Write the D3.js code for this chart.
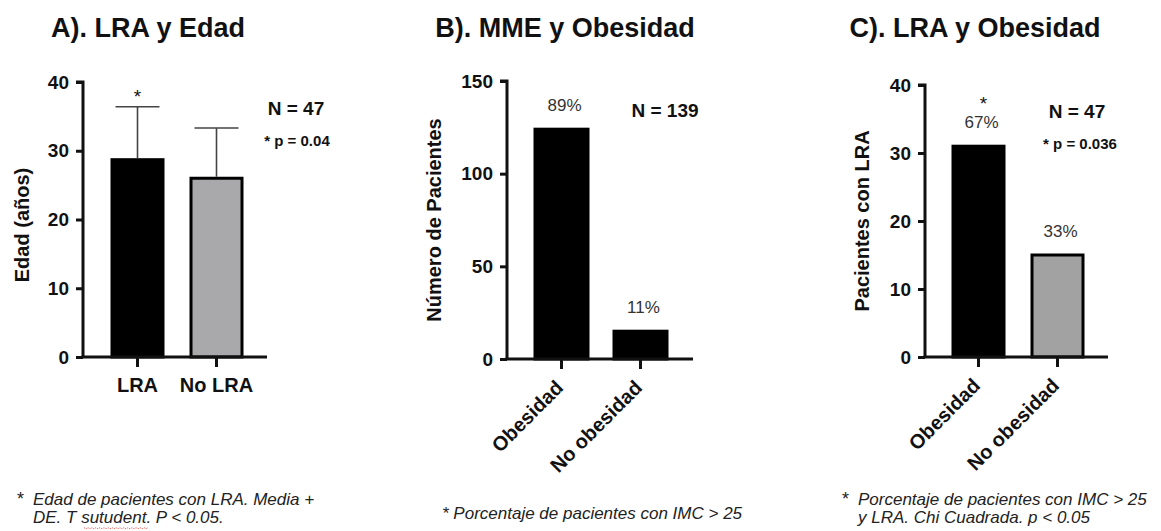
<!DOCTYPE html>
<html>
<head>
<meta charset="utf-8">
<script src="https://cdn.jsdelivr.net/npm/d3@7/dist/d3.min.js"></script>
<style>
  html, body { margin: 0; padding: 0; background: #fff; }
  svg { display: block; font-family: "Liberation Sans", Arial, Helvetica, sans-serif; }
</style>
</head>
<body>
<svg id="chart" width="1161" height="531"></svg>
<script>
// ---------- DATA ----------
const titles = ["A). LRA y Edad", "B). MME y Obesidad", "C). LRA y Obesidad"];
const yLabels = ["Edad (años)", "Número de Pacientes", "Pacientes con LRA"];

const catsA = ["LRA", "No LRA"];
const meansA = [28.7, 26.0];
const sdA = [7.7, 7.3];
const ticksA = [0, 10, 20, 30, 40];

const catsB = ["Obesidad", "No obesidad"];
const valuesB = [124, 15];
const pctB = ["89%", "11%"];
const ticksB = [0, 50, 100, 150];

const catsC = ["Obesidad", "No obesidad"];
const valuesC = [31, 15];
const pctC = ["67%", "33%"];
const ticksC = [0, 10, 20, 30, 40];

const nLabels = ["N = 47", "N = 139", "N = 47"];
const pLabels = ["* p = 0.04", "", "* p = 0.036"];

const notesA = ["Edad de pacientes con LRA. Media +", "DE. T sutudent. P < 0.05."];
const notesB = ["* Porcentaje de pacientes con IMC >  25"];
const notesC = ["Porcentaje de pacientes con IMC >  25", "y LRA. Chi Cuadrada. p < 0.05"];

// ---------- DRAW ----------
const svg = d3.select("#chart");

function panel(cfg) {
  const g = svg.append("g");
  const y = d3.scaleLinear().domain([0, cfg.ticks[cfg.ticks.length - 1]]).range([cfg.y0, cfg.y1]);
  const x = d3.scaleBand().domain(cfg.cats)
    .range([cfg.bx, cfg.bx + cfg.step + cfg.bw])
    .paddingInner((cfg.step - cfg.bw) / cfg.step).paddingOuter(0);

  // title
  g.append("text").attr("x", cfg.titleX).attr("y", 37).attr("text-anchor", "middle")
    .attr("font-size", 27).attr("font-weight", "bold").attr("fill", "#111").text(cfg.title);

  // y label
  g.append("text").attr("transform", `translate(${cfg.ylx},${cfg.yly}) rotate(-90)`)
    .attr("text-anchor", "middle").attr("dy", "0.35em")
    .attr("font-size", 20).attr("font-weight", "bold").attr("fill", "#111").text(cfg.ylabel);

  // bars
  g.selectAll("rect.bar").data(cfg.values).enter().append("rect")
    .attr("class", "bar")
    .attr("x", (d, i) => x(cfg.cats[i]))
    .attr("width", x.bandwidth())
    .attr("y", d => y(d))
    .attr("height", d => y(0) - y(d))
    .attr("fill", (d, i) => cfg.fills[i])
    .attr("stroke", "#000").attr("stroke-width", 3);

  // error bars
  if (cfg.sd) {
    cfg.values.forEach((v, i) => {
      const cx = x(cfg.cats[i]) + x.bandwidth() / 2;
      const top = y(v + cfg.sd[i]);
      g.append("line").attr("x1", cx).attr("x2", cx).attr("y1", y(v) - 1.5).attr("y2", top)
        .attr("stroke", "#444").attr("stroke-width", 1.6);
      g.append("line").attr("x1", cx - 22).attr("x2", cx + 22).attr("y1", top).attr("y2", top)
        .attr("stroke", "#444").attr("stroke-width", 1.6);
    });
  }

  // y axis
  const ya = g.append("g").attr("transform", `translate(${cfg.left},0)`)
    .call(d3.axisLeft(y).tickValues(cfg.ticks).tickSize(7).tickPadding(7));
  ya.select(".domain").attr("stroke", "#111").attr("stroke-width", 3)
    .attr("d", `M-7,${cfg.y1}H0V${cfg.y0}`);
  ya.selectAll(".tick line").attr("stroke", "#111").attr("stroke-width", 3);
  ya.selectAll(".tick text").attr("font-size", 19).attr("font-weight", "bold")
    .attr("fill", "#111").attr("font-family", "Liberation Sans, Arial, sans-serif");

  // x axis
  const xa = g.append("g").attr("transform", `translate(0,${cfg.y0})`)
    .call(d3.axisBottom(x).tickSize(10).tickPadding(6));
  xa.select(".domain").attr("stroke", "#111").attr("stroke-width", 3)
    .attr("d", `M${cfg.left - 1.5},0H${cfg.right}`);
  xa.selectAll(".tick line").attr("stroke", "#111").attr("stroke-width", 3);
  const xt = xa.selectAll(".tick text").attr("fill", "#111")
    .attr("font-family", "Liberation Sans, Arial, sans-serif");
  if (cfg.rotate) {
    xt.attr("font-size", 20).attr("font-weight", "bold")
      .attr("text-anchor", "end")
      .attr("transform", "translate(-2,25) rotate(-45)")
      .attr("y", 0).attr("x", 0).attr("dy", "0.35em");
  } else {
    xt.attr("font-size", 20).attr("font-weight", "bold").attr("dy", "0.95em");
  }

  // percent labels
  if (cfg.pct) {
    cfg.pct.forEach((p, i) => {
      const cx = x(cfg.cats[i]) + x.bandwidth() / 2;
      g.append("text").attr("x", cx + 3).attr("y", y(cfg.values[i]) - 18)
        .attr("text-anchor", "middle").attr("font-size", 17).attr("fill", "#333").text(p);
    });
  }
  // star
  if (cfg.star) {
    const cx = x(cfg.cats[0]) + x.bandwidth() / 2;
    g.append("text").attr("x", cx + cfg.star.dx).attr("y", cfg.star.y)
      .attr("text-anchor", "middle").attr("font-size", 19).attr("fill", "#111").text("*");
  }
  // N / p
  g.append("text").attr("x", cfg.nx).attr("y", cfg.ny).attr("text-anchor", "middle")
    .attr("font-size", 19).attr("font-weight", "bold").attr("fill", "#111").text(cfg.n);
  if (cfg.p) {
    g.append("text").attr("x", cfg.px).attr("y", cfg.py).attr("text-anchor", "middle")
      .attr("font-size", 15).attr("font-weight", "bold").attr("fill", "#111").text(cfg.p);
  }
  return { x, y };
}

panel({
  title: titles[0], titleX: 148, ylabel: yLabels[0], ylx: 22, yly: 225,
  cats: catsA, values: meansA, sd: sdA, ticks: ticksA, fills: ["#000", "#a9a9ab"],
  left: 83, right: 267, y0: 357, y1: 82, bx: 112, step: 79, bw: 51,
  star: { dx: 0, y: 103 },
  n: nLabels[0], nx: 296, ny: 115, p: pLabels[0], px: 297, py: 146
});
panel({
  title: titles[1], titleX: 565, ylabel: yLabels[1], ylx: 434, yly: 220,
  cats: catsB, values: valuesB, pct: pctB, ticks: ticksB, fills: ["#000", "#000"],
  left: 507, right: 693, y0: 359, y1: 81, bx: 535, step: 79, bw: 53, rotate: true,
  n: nLabels[1], nx: 665, ny: 117
});
panel({
  title: titles[2], titleX: 975, ylabel: yLabels[2], ylx: 862, yly: 221,
  cats: catsC, values: valuesC, pct: pctC, ticks: ticksC, fills: ["#000", "#a2a2a2"],
  left: 925, right: 1108, y0: 357, y1: 85, bx: 953, step: 79, bw: 51, rotate: true,
  star: { dx: 5, y: 110 },
  n: nLabels[2], nx: 1077, ny: 118, p: pLabels[2], px: 1080, py: 149
});

// ---------- FOOTNOTES ----------
const fn = svg.append("g").attr("font-size", 17).attr("fill", "#222");
fn.append("text").attr("x", 17).attr("y", 505).attr("font-size", 18).text("*");
notesA.forEach((t, i) => fn.append("text").attr("x", 33).attr("y", 505 + i * 18)
  .attr("font-style", "italic").text(t));
notesB.forEach((t, i) => fn.append("text").attr("x", 442).attr("y", 519)
  .attr("font-style", "italic").text(t));
fn.append("text").attr("x", 842).attr("y", 505).attr("font-size", 18).text("*");
notesC.forEach((t, i) => fn.append("text").attr("x", 858).attr("y", 505 + i * 18)
  .attr("font-style", "italic").text(t));
// spell-check squiggle under "sutudent"
const sq = d3.range(84, 150, 2).map((xx, i) => [xx, 528 + (i % 2 ? 0.8 : -0.4)]);
fn.append("path").attr("d", d3.line()(sq)).attr("fill", "none")
  .attr("stroke", "#e0524a").attr("stroke-width", 0.8).attr("stroke-dasharray", "1.5,1");
</script>
</body>
</html>
